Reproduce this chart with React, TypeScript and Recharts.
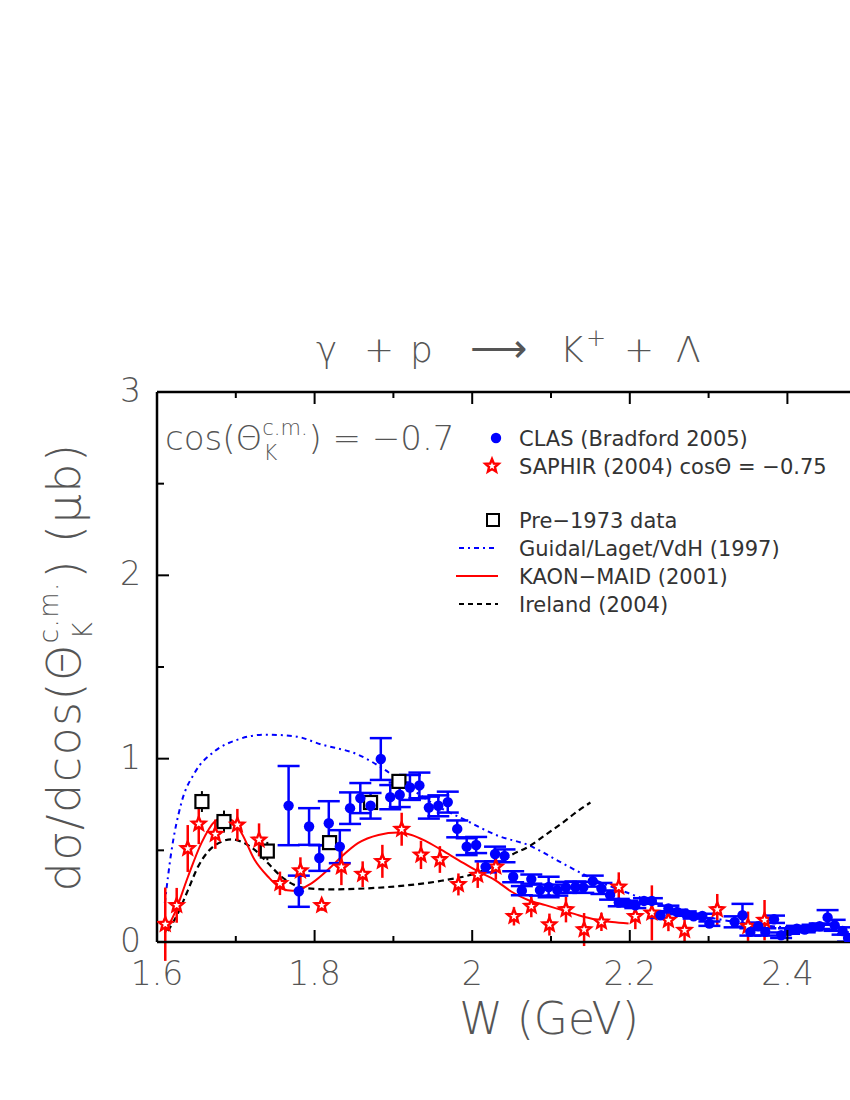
import React from 'react';
import { ComposedChart, Line, Scatter, XAxis, YAxis, ErrorBar } from 'recharts';

// [W (GeV), dσ/dcos (μb), error]
const clasData = [
  [1.767, 0.744, 0.216], [1.780, 0.277, 0.085], [1.793, 0.63, 0.1], [1.806, 0.458, 0.07],
  [1.818, 0.648, 0.12], [1.832, 0.52, 0.09], [1.845, 0.73, 0.086], [1.858, 0.785, 0.082],
  [1.871, 0.743, 0.07], [1.884, 0.998, 0.114], [1.896, 0.79, 0.066], [1.908, 0.803, 0.067],
  [1.921, 0.843, 0.068], [1.933, 0.854, 0.07], [1.945, 0.733, 0.06], [1.957, 0.743, 0.057],
  [1.969, 0.763, 0.057], [1.981, 0.617, 0.046], [1.993, 0.52, 0.046], [2.005, 0.529, 0.044],
  [2.017, 0.41, 0.03], [2.029, 0.48, 0.04], [2.041, 0.47, 0.035], [2.052, 0.356, 0.03],
  [2.063, 0.28, 0.025], [2.075, 0.343, 0.025], [2.086, 0.283, 0.03], [2.097, 0.3, 0.056],
  [2.108, 0.283, 0.03], [2.119, 0.298, 0.03], [2.131, 0.3, 0.03], [2.141, 0.298, 0.03],
  [2.153, 0.332, 0.03], [2.164, 0.292, 0.03], [2.175, 0.256, 0.025], [2.186, 0.215, 0.02],
  [2.197, 0.21, 0.015], [2.207, 0.2, 0.015], [2.218, 0.224, 0.015], [2.228, 0.224, 0.015],
  [2.239, 0.146, 0.015], [2.249, 0.183, 0.015], [2.26, 0.164, 0.012], [2.271, 0.155, 0.012],
  [2.281, 0.14, 0.012], [2.292, 0.142, 0.012], [2.301, 0.1, 0.012], [2.333, 0.11, 0.03],
  [2.343, 0.146, 0.062], [2.353, 0.055, 0.02], [2.363, 0.086, 0.02], [2.372, 0.055, 0.02],
  [2.383, 0.124, 0.02], [2.392, 0.037, 0.015], [2.402, 0.06, 0.015], [2.412, 0.073, 0.015],
  [2.422, 0.068, 0.015], [2.432, 0.079, 0.015], [2.441, 0.086, 0.015], [2.451, 0.134, 0.04],
  [2.46, 0.091, 0.03], [2.47, 0.06, 0.02], [2.477, 0.022, 0.02],
];

const saphirData = [
  [1.6105, 0.097, 0.2], [1.625, 0.2, 0.095], [1.639, 0.51, 0.128], [1.653, 0.644, 0.11],
  [1.674, 0.588, 0.08], [1.702, 0.639, 0.087], [1.7295, 0.557, 0.09], [1.756, 0.32, 0.064],
  [1.782, 0.389, 0.073], [1.809, 0.2, 0.03], [1.834, 0.41, 0.1], [1.861, 0.37, 0.07],
  [1.886, 0.44, 0.09], [1.9105, 0.615, 0.09], [1.935, 0.475, 0.077], [1.959, 0.45, 0.073],
  [1.9825, 0.314, 0.06], [2.007, 0.365, 0.07], [2.03, 0.41, 0.07], [2.053, 0.14, 0.05],
  [2.075, 0.195, 0.06], [2.098, 0.095, 0.06], [2.119, 0.177, 0.07], [2.142, 0.068, 0.09],
  [2.164, 0.11, 0.05], [2.186, 0.3, 0.08], [2.207, 0.14, 0.07], [2.228, 0.159, 0.15],
  [2.249, 0.119, 0.06], [2.2695, 0.064, 0.06], [2.311, 0.177, 0.085], [2.35, 0.086, 0.08],
  [2.371, 0.119, 0.11],
];

const pre1973Data = [
  [1.657, 0.766, 0.057], [1.685, 0.657, 0.06], [1.74, 0.496, 0.05],
  [1.819, 0.542, 0.02], [1.871, 0.761, 0.03], [1.907, 0.876, 0.02],
];

// [W, value]
const guidalCurve = [
  [1.6099, 0.212], [1.618, 0.486], [1.631, 0.76], [1.648, 0.924], [1.673, 1.04],
  [1.7025, 1.104], [1.737, 1.131], [1.775, 1.122], [1.809, 1.077], [1.855, 1.022],
  [1.885, 0.951], [1.9185, 0.848], [1.953, 0.748], [1.991, 0.666], [2.033, 0.579],
  [2.071, 0.529], [2.114, 0.431], [2.156, 0.338], [2.198, 0.267], [2.241, 0.201],
  [2.306, 0.13], [2.381, 0.086], [2.4485, 0.07], [2.478, 0.053],
];

const kaonMaidCurve = [
  [1.6097, 0.048], [1.6224, 0.157], [1.6393, 0.356], [1.6563, 0.539], [1.6732, 0.657],
  [1.6817, 0.675], [1.6944, 0.666], [1.7072, 0.595], [1.724, 0.447], [1.741, 0.356],
  [1.758, 0.292], [1.772, 0.279], [1.796, 0.32], [1.819, 0.402], [1.834, 0.465],
  [1.855, 0.539], [1.881, 0.584], [1.906, 0.597], [1.923, 0.584], [1.94, 0.553],
  [1.961, 0.502], [1.9825, 0.447], [2.008, 0.383], [2.029, 0.338], [2.05, 0.274],
  [2.0715, 0.228], [2.093, 0.201], [2.114, 0.174], [2.135, 0.146], [2.156, 0.123],
  [2.1775, 0.109], [2.1985, 0.101],
];

const irelandCurve = [
  [1.6139, 0.06], [1.6266, 0.157], [1.6393, 0.283], [1.652, 0.41], [1.6647, 0.493],
  [1.6817, 0.547], [1.6944, 0.56], [1.7072, 0.547], [1.724, 0.502], [1.741, 0.429],
  [1.758, 0.356], [1.775, 0.31], [1.792, 0.292], [1.819, 0.287], [1.864, 0.292],
  [1.919, 0.31], [1.961, 0.334], [2.004, 0.374], [2.03, 0.42], [2.05, 0.475],
  [2.0715, 0.52], [2.093, 0.584], [2.114, 0.648], [2.135, 0.717], [2.15, 0.761],
];

const xTicks = [1.6, 1.7, 1.8, 1.9, 2.0, 2.1, 2.2, 2.3, 2.4, 2.5, 2.6];
const xLabels = [1.6, 1.8, 2.0, 2.2, 2.4];
const yTicks = [0, 0.5, 1, 1.5, 2, 2.5, 3];

const toPoints = (rows: number[][]) => rows.map(([x, y, err]) => ({ x, y, err }));
const toCurve = (rows: number[][]) => rows.map(([x, y]) => ({ x, y }));

const FONT = 'DejaVu Sans';
const GREY = '#555';

const isMajorX = (v: number) => Math.round(v * 10) % 2 === 0;
const isMajorY = (v: number) => Math.abs(v - Math.round(v)) < 1e-6;

function BottomTick(props: any) {
  const { x, y, payload } = props;
  const v = payload.value;
  const major = isMajorX(v);
  const labelled = xLabels.some((l) => Math.abs(l - v) < 1e-6);
  return (
    <g>
      <line x1={x} y1={y} x2={x} y2={y - (major ? 12 : 6)} stroke="#000" strokeWidth={2} />
      {labelled && (
        <text x={x} y={y + 43} textAnchor="middle" fontFamily={FONT} fontWeight={200} fontSize={33} fill={GREY}>
          {String(Math.round(v * 10) / 10)}
        </text>
      )}
    </g>
  );
}

function TopTick(props: any) {
  const { x, y, payload } = props;
  const major = isMajorX(payload.value);
  return <line x1={x} y1={y} x2={x} y2={y + (major ? 12 : 6)} stroke="#000" strokeWidth={2} />;
}

function LeftTick(props: any) {
  const { x, y, payload } = props;
  const major = isMajorY(payload.value);
  return (
    <g>
      <line x1={x} y1={y} x2={x + (major ? 12 : 7)} y2={y} stroke="#000" strokeWidth={2} />
      {major && (
        <text x={x - 16} y={y + 10} textAnchor="end" fontFamily={FONT} fontWeight={200} fontSize={33} fill={GREY}>
          {String(payload.value)}
        </text>
      )}
    </g>
  );
}

function starPath(cx: number, cy: number, R: number, r: number) {
  const pts: string[] = [];
  for (let i = 0; i < 10; i++) {
    const rad = i % 2 === 0 ? R : r;
    const a = -Math.PI / 2 + (i * Math.PI) / 5;
    pts.push(`${cx + rad * Math.cos(a)},${cy + rad * Math.sin(a)}`);
  }
  return pts.join(' ');
}

const Star = (props: any) => {
  const { cx, cy } = props;
  if (cx == null || cy == null) return null;
  return <polygon points={starPath(cx, cy, 7, 3.1)} fill="#fff" stroke="#ff0000" strokeWidth={2.4} />;
};

const Dot = (props: any) => {
  const { cx, cy } = props;
  if (cx == null || cy == null) return null;
  return <circle cx={cx} cy={cy} r={5.2} fill="#0000ff" />;
};

const Square = (props: any) => {
  const { cx, cy } = props;
  if (cx == null || cy == null) return null;
  return <rect x={cx - 6.5} y={cy - 6.5} width={13} height={13} fill="#fff" stroke="#000" strokeWidth={2.2} />;
};

const legendRows = [
  { kind: 'dot', label: 'CLAS (Bradford 2005)', y: 438 },
  { kind: 'star', label: 'SAPHIR (2004) cosΘ = −0.75', y: 466 },
  { kind: 'square', label: 'Pre−1973 data', y: 520 },
  { kind: 'guidal', label: 'Guidal/Laget/VdH (1997)', y: 548 },
  { kind: 'maid', label: 'KAON−MAID (2001)', y: 576 },
  { kind: 'ireland', label: 'Ireland (2004)', y: 604 },
];

function LegendSymbol({ kind, y }: { kind: string; y: number }) {
  switch (kind) {
    case 'dot':
      return <circle cx={496} cy={y} r={5.2} fill="#0000ff" />;
    case 'star':
      return <polygon points={starPath(492, y, 7, 3.1)} fill="#fff" stroke="#ff0000" strokeWidth={2.4} />;
    case 'square':
      return <rect x={487} y={y - 6} width={12} height={12} fill="#fff" stroke="#000" strokeWidth={2} />;
    case 'guidal':
      return <line x1={459} y1={y} x2={498} y2={y} stroke="#0000ff" strokeWidth={2} strokeDasharray="5 4 2 4" />;
    case 'maid':
      return <line x1={456} y1={y} x2={498} y2={y} stroke="#ff0000" strokeWidth={2} />;
    default:
      return <line x1={459} y1={y} x2={498} y2={y} stroke="#000" strokeWidth={2} strokeDasharray="5 4" />;
  }
}

export default function App() {
  return (
    <div style={{ position: 'absolute', left: 0, top: 0, width: 850, height: 1100, overflow: 'hidden', background: '#fff' }}>
      <ComposedChart width={1000} height={1100} margin={{ top: 391, right: 55, bottom: 157, left: 156 }}>
        <XAxis
          dataKey="x"
          type="number"
          domain={[1.6, 2.6]}
          ticks={xTicks}
          interval={0}
          allowDataOverflow
          height={1}
          tickSize={0}
          tickMargin={0}
          tick={BottomTick}
          axisLine={{ stroke: '#000', strokeWidth: 2.5 }}
          tickLine={false}
        />
        <XAxis
          xAxisId="top"
          orientation="top"
          dataKey="x"
          type="number"
          domain={[1.6, 2.6]}
          ticks={xTicks}
          interval={0}
          allowDataOverflow
          height={1}
          tickSize={0}
          tickMargin={0}
          tick={TopTick}
          axisLine={{ stroke: '#000', strokeWidth: 2.5 }}
          tickLine={false}
        />
        <YAxis
          dataKey="y"
          type="number"
          domain={[0, 3]}
          ticks={yTicks}
          interval={0}
          allowDataOverflow
          width={1}
          tickSize={0}
          tickMargin={0}
          tick={LeftTick}
          axisLine={{ stroke: '#000', strokeWidth: 2.5 }}
          tickLine={false}
        />
        <Line
          data={toCurve(guidalCurve)}
          dataKey="y"
          type="monotone"
          stroke="#0000ff"
          strokeWidth={2}
          strokeDasharray="5 4 2 4"
          dot={false}
          activeDot={false}
          isAnimationActive={false}
        />
        <Line
          data={toCurve(irelandCurve)}
          dataKey="y"
          type="monotone"
          stroke="#000"
          strokeWidth={2.2}
          strokeDasharray="6 4"
          dot={false}
          activeDot={false}
          isAnimationActive={false}
        />
        <Line
          data={toCurve(kaonMaidCurve)}
          dataKey="y"
          type="monotone"
          stroke="#ff0000"
          strokeWidth={2}
          dot={false}
          activeDot={false}
          isAnimationActive={false}
        />
        <Scatter data={toPoints(pre1973Data)} dataKey="y" shape={Square} isAnimationActive={false}>
          <ErrorBar dataKey="err" direction="y" width={0} stroke="#000" strokeWidth={2} />
        </Scatter>
        <Scatter data={toPoints(saphirData)} dataKey="y" shape={Star} isAnimationActive={false}>
          <ErrorBar dataKey="err" direction="y" width={0} stroke="#ff0000" strokeWidth={2.5} />
        </Scatter>
        <Scatter data={toPoints(clasData)} dataKey="y" shape={Dot} isAnimationActive={false}>
          <ErrorBar dataKey="err" direction="y" width={11} stroke="#0000ff" strokeWidth={2.5} />
        </Scatter>
      </ComposedChart>

      <svg width={850} height={1100} style={{ position: 'absolute', left: 0, top: 0, pointerEvents: 'none' }}>
        <g fontFamily={FONT} fontWeight={200} fill={GREY}>
          <text y={362} fontSize={36}>
            <tspan x={316}>γ</tspan>
            <tspan x={364}>+</tspan>
            <tspan x={410}>p</tspan>
            <tspan x={470} fontSize={40}>⟶</tspan>
            <tspan x={560}>K</tspan>
            <tspan x={586} dy={-16} fontSize={24}>+</tspan>
            <tspan x={624} dy={16}>+</tspan>
            <tspan x={676}>Λ</tspan>
          </text>

          <text x={165} y={450} fontSize={34}>
            cos(Θ
            <tspan fontSize={21} dy={-15}>c.m.</tspan>
            <tspan fontSize={21} dx={-44} dy={25}>K</tspan>
            <tspan dx={31} dy={-10}>) = −0.7</tspan>
          </text>

          <text transform="translate(80,667) rotate(-90)" textAnchor="middle" fontSize={46} letterSpacing={1.5}>
            dσ/dcos(Θ
            <tspan fontSize={26} dy={-22}>c.m.</tspan>
            <tspan fontSize={26} dx={-58} dy={34}>K</tspan>
            <tspan dx={42} dy={-12}>) (μb)</tspan>
          </text>

          <text x={549} y={1034} textAnchor="middle" fontSize={44}>
            W (GeV)
          </text>
        </g>

        {legendRows.map((row) => (
          <g key={row.label}>
            <LegendSymbol kind={row.kind} y={row.y} />
            <text x={519} y={row.y + 8} fontFamily={FONT} fontSize={21} fill="#333">
              {row.label}
            </text>
          </g>
        ))}
      </svg>
    </div>
  );
}
